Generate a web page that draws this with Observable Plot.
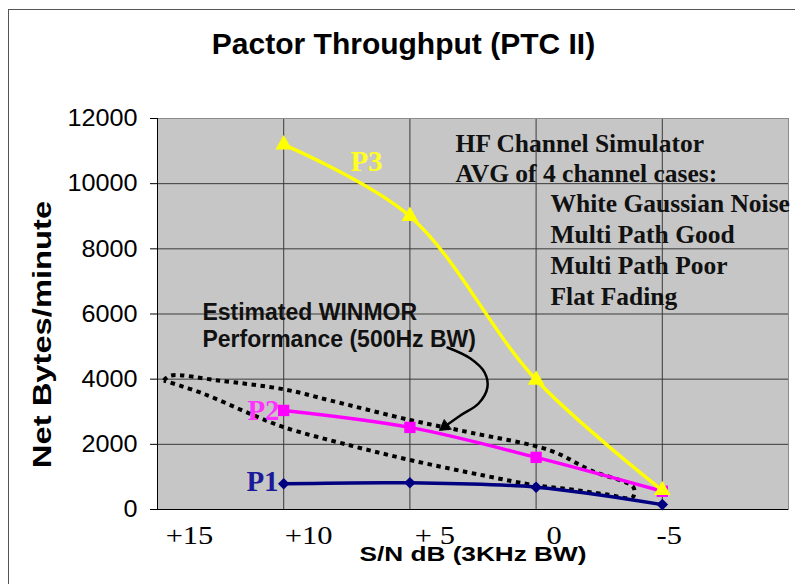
<!DOCTYPE html>
<html>
<head>
<meta charset="utf-8">
<script src="https://cdn.jsdelivr.net/npm/d3@7"></script>
<script src="https://cdn.jsdelivr.net/npm/@observablehq/plot@0.6"></script>
<style>
  html, body { margin: 0; padding: 0; background: #fff; }
  #wrap { position: relative; width: 795px; height: 584px; overflow: hidden; background: #fff; }
  #border { position: absolute; left: 8px; top: 9px; width: 800px; height: 590px;
            border-left: 1.5px solid #555; border-top: 1.5px solid #555; }
  #wrap svg { position: absolute; left: 0; top: 0; }
</style>
</head>
<body>
<div id="wrap"><div id="border"></div></div>
<script>
// ---- data (S/N in dB, throughput in net bytes/minute) ----
const sn = [10, 5, 0, -5];
const p1 = [790, 820, 685, 150];
const p2 = [3040, 2520, 1600, 560];
const p3 = [11200, 9000, 3980, 590];

const xTicks = [15, 10, 5, 0, -5];
const xTickLabels = ["+15", "+10", "+ 5", "0", "-5"];
const yTicks = [0, 2000, 4000, 6000, 8000, 10000, 12000];

// hand-drawn "Estimated WINMOR" outline, traced in drawing order
const winmorX = [14.75, 14.48, 12.6, 9.93, 8.15, 4.9, 2.6, -0.57, -2.16, -3.86, -3.82, -2.82, -1.09, 0, 2.07, 4.91, 7.35, 10, 11.32, 13.17, 14.75];
const winmorY = [3960, 4110, 3960, 3680, 3345, 2730, 2360, 1810, 1200, 675, 370, 460, 644, 737, 1043, 1504, 1964, 2527, 2936, 3550, 3960];

// curved pointer arrow
const arrowX = [3.51, 2.6, 2.04, 1.93, 2.28, 3.0, 3.67];
const arrowY = [4972, 4634, 4205, 3744, 3253, 2885, 2517];

// texts
const titleText = "Pactor Throughput (PTC II)";
const xTitle = "S/N dB (3KHz BW)";
const yTitle = "Net Bytes/minute";
const seriesNames = ["P1", "P2", "P3"];
const seriesLabelX = [10.84, 10.8, 6.72];
const seriesLabelY = [580, 2760, 10400];
const winmorNote = {x: 13.22, y: 4972, text: "Estimated WINMOR\nPerformance (500Hz BW)"};
const legendHead = {x: 3.19, y: 10036, text: "HF Channel Simulator\nAVG of 4 channel cases:"};
const legendCases = {x: -0.57, y: 6261, text: "White Gaussian Noise\nMulti Path Good\nMulti Path Poor\nFlat Fading"};

// ---- build tables ----
const rows = (vals) => sn.map((x, i) => ({x, y: vals[i]}));
const r1 = rows(p1), r2 = rows(p2), r3 = rows(p3);
const winmor = winmorX.map((x, i) => ({x, y: winmorY[i]}));
const arrow = arrowX.map((x, i) => ({x, y: arrowY[i]}));
const lab = (i) => [{x: seriesLabelX[i], y: seriesLabelY[i], text: seriesNames[i]}];

const sans = "'Liberation Sans', Arial, sans-serif";
const serif = "'Liberation Serif', 'Times New Roman', serif";
const fmtX = (d) => xTickLabels[xTicks.indexOf(d)];
const xAxisStyle = {tickSize: 0, tickPadding: 17, fontSize: 25, fontFamily: serif, tickFormat: fmtX, label: null};

const navy = "#000080", magenta = "#ff00ff", yellow = "#ffff00";

const chart = Plot.plot({
  width: 795,
  height: 584,
  marginLeft: 157,
  marginRight: 7,
  marginTop: 118,
  marginBottom: 75,
  style: {background: "transparent", overflow: "visible", color: "#000"},
  x: {domain: [15, -10], axis: null, label: null},
  y: {domain: [0, 12000], axis: null, label: null},
  marks: [
    Plot.frame({fill: "#c6c6c6", stroke: null}),
    Plot.gridX(sn, {stroke: "#3a3a3a", strokeOpacity: 1, strokeWidth: 1}),
    Plot.gridY(yTicks.slice(1, -1), {stroke: "#3a3a3a", strokeOpacity: 1, strokeWidth: 1}),
    Plot.frame({stroke: "#8c8c8c"}),
    Plot.ruleX([15], {stroke: "#000"}),
    Plot.ruleY([0], {stroke: "#000"}),
    Plot.axisY(yTicks, {tickSize: 7, tickPadding: 13, fontSize: 24, fontFamily: sans,
      tickFormat: d3.format("d"), label: null, stroke: "#000"}),
    Plot.axisX([15], {...xAxisStyle, dx: 32}),
    Plot.axisX([10, 5], {...xAxisStyle, dx: 25}),
    Plot.axisX([0], {...xAxisStyle, dx: 18}),
    Plot.axisX([-5], {...xAxisStyle, dx: 7}),

    // WINMOR estimate outline and pointer
    Plot.line(winmor, {x: "x", y: "y", curve: "catmull-rom", stroke: "#000", strokeWidth: 4,
      strokeDasharray: "4.5 4.5", strokeLinecap: "butt"}),
    Plot.line(arrow, {x: "x", y: "y", curve: "catmull-rom", stroke: "#000", strokeWidth: 2.5, markerEnd: "arrow"}),

    // series
    Plot.line(r1, {x: "x", y: "y", stroke: navy, strokeWidth: 3.5, curve: "catmull-rom"}),
    Plot.dot(r1, {x: "x", y: "y", symbol: "diamond2", r: 5.2, fill: navy, stroke: null}),
    Plot.line(r2, {x: "x", y: "y", stroke: magenta, strokeWidth: 3.5, curve: "catmull-rom"}),
    Plot.dot(r2, {x: "x", y: "y", symbol: "square", r: 6.4, fill: magenta, stroke: null}),
    Plot.line(r3, {x: "x", y: "y", stroke: yellow, strokeWidth: 3.5, curve: "catmull-rom"}),
    Plot.dot(r3, {x: "x", y: "y", symbol: "triangle", r: 6.2, fill: yellow, stroke: null}),

    // series labels
    Plot.text(lab(0), {x: "x", y: "y", text: "text", fill: "#1a1a9a", fontSize: 29, fontWeight: "bold", fontFamily: serif, lineAnchor: "bottom"}),
    Plot.text(lab(1), {x: "x", y: "y", text: "text", fill: "#ff33ff", fontSize: 29, fontWeight: "bold", fontFamily: serif, lineAnchor: "bottom"}),
    Plot.text(lab(2), {x: "x", y: "y", text: "text", fill: "#ffff22", fontSize: 29, fontWeight: "bold", fontFamily: serif, lineAnchor: "bottom"}),

    // annotations
    Plot.text([winmorNote], {x: "x", y: "y", text: "text", textAnchor: "start", lineAnchor: "bottom",
      lineHeight: 1.217, fontSize: 23, fontWeight: "bold", fontFamily: sans, fill: "#111"}),
    Plot.text([legendHead], {x: "x", y: "y", text: "text", textAnchor: "start", lineAnchor: "bottom",
      lineHeight: 1.18, fontSize: 25.5, fontWeight: "bold", fontFamily: serif, fill: "#111"}),
    Plot.text([legendCases], {x: "x", y: "y", text: "text", textAnchor: "start", lineAnchor: "bottom",
      lineHeight: 1.216, fontSize: 25.5, fontWeight: "bold", fontFamily: serif, fill: "#111"}),

    // titles
    Plot.text([titleText], {text: (d) => d, frameAnchor: "top", dx: -69.5, dy: -65, lineAnchor: "bottom",
      fontSize: 30, fontWeight: "bold", fontFamily: sans, fill: "#000"}),
    Plot.text([xTitle], {text: (d) => d, frameAnchor: "bottom", dx: 0, dy: 51, lineAnchor: "bottom",
      fontSize: 20, fontWeight: "bold", fontFamily: sans, fill: "#000"}),
    Plot.text([yTitle], {text: (d) => d, frameAnchor: "left", textAnchor: "middle", lineAnchor: "middle", rotate: -90,
      fontSize: 25, fontWeight: "bold", fontFamily: sans, fill: "#000"})
  ]
});

document.getElementById("wrap").appendChild(chart);

// the original's axis texts are stretched along their baselines
d3.select(chart).selectAll("text").each(function () {
  const t = this.textContent;
  if (t === xTitle) {
    this.setAttribute("transform", (this.getAttribute("transform") || "") + " scale(1.31,1)");
  } else if (t === yTitle) {
    // centre at (42.5, 334), rotated, stretched along its length
    this.setAttribute("transform", "translate(42.5,334) rotate(-90) scale(1.31,1)");
  } else if (xTickLabels.includes(t) && this.closest("g[aria-label='x-axis tick label']")) {
    this.setAttribute("transform", (this.getAttribute("transform") || "") + " scale(1.22,1)");
  } else if (this.closest("g[aria-label='y-axis tick label']")) {
    this.setAttribute("transform", (this.getAttribute("transform") || "") + " scale(1.05,1)");
  }
});

// filled arrow head
d3.select(chart).selectAll("marker").attr("fill", "#000")
  .select("path").attr("d", "M-3,-3.5L3,0L-3,3.5Z").attr("fill", "#000").attr("stroke-width", 0.5);
</script>
</body>
</html>
